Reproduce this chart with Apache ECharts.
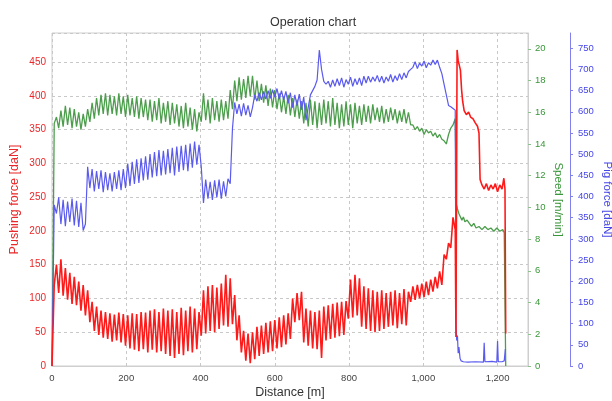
<!DOCTYPE html>
<html>
<head>
<meta charset="utf-8">
<script src="https://cdn.jsdelivr.net/npm/echarts@6/dist/echarts.min.js"></script>
<style>html,body{margin:0;padding:0;background:#fff;}#c{width:612px;height:401px;}</style>
</head>
<body>
<div id="c"></div>
<script>
// Sampling step (m) of the regular part of each record
const sampleStep = 6;
const xTicks = [0, 200, 400, 600, 800, 1000, 1200];

// Pushing force [daN], every 6 m from 0 to 1086
const pushForce = [
  0,
  120, 150, 108, 158, 104,
  145, 98, 138, 92, 132,
  90, 125, 82, 120, 75, 112,
  65, 95, 52, 88, 46, 82, 42,
  80, 40, 78, 36, 76, 38, 79, 35, 77,
  30, 75, 26, 78, 24, 77, 22, 80, 25, 79, 20, 82,
  24, 84, 20, 80, 22, 85, 18, 82,
  15, 84, 12, 80, 18, 86, 16, 82, 22, 88, 20, 85, 25, 80,
  45, 112, 48, 118, 52, 120, 50, 116, 55, 122,
  60, 135, 58, 130, 62,
  105, 38, 75, 20, 52,
  8, 48, 4, 50, 10,
  58, 15, 60, 18, 64, 20, 66, 22, 68,
  26, 72, 28, 75, 32, 78, 40,
  100, 65, 108, 68, 110,
  35, 85, 30, 82, 26, 80, 25, 82,
  12,
  88, 38, 90, 40, 92, 42, 94, 44, 95, 46, 96,
  70, 128, 72, 135, 75, 130,
  58, 118, 55, 115, 52, 112, 50,
  110, 52, 112, 55, 108, 58, 110, 60, 112, 56, 108, 62, 114, 60, 110,
  95, 118, 98, 120, 100, 122, 102, 125, 105, 128, 110, 132, 115, 140, 120,
  165, 158, 182, 175, 220, 202
];
const pushForceTail = [
  [1088, 43], [1091, 468], [1094, 452], [1097, 445], [1100, 438], [1103, 410], [1106, 392],
  [1110, 378], [1116, 372], [1122, 376], [1128, 368], [1134, 366], [1140, 360], [1146, 355],
  [1150, 345], [1153, 276], [1158, 268], [1164, 262], [1170, 270], [1176, 260], [1182, 268],
  [1188, 262], [1194, 270], [1200, 258], [1206, 268], [1212, 262], [1217, 278], [1220, 262], [1222, 48]
];

// Speed [m/min], every 6 m from 0 to 1086
const speed = [
  0,
  15.3, 15.7, 15.0, 16.1, 15.1, 16.4, 15.2, 16.3, 15.0, 16.2, 15.1, 16.0, 14.9, 15.9, 15.1, 16.2,
  15.4, 16.6, 15.6, 16.9, 15.8, 17.1, 15.9, 17.2, 15.8,
  17.1, 15.9, 17.0, 15.8, 17.2, 15.9, 17.0, 15.7, 17.1, 15.8, 16.9, 15.7, 17.0, 15.6, 16.9, 15.7, 16.8,
  15.5, 16.8, 15.4, 16.7, 15.5, 16.9, 15.3, 16.6, 15.4, 16.7, 15.2, 16.6, 15.3,
  16.5, 15.1, 16.4, 15.0, 16.6, 15.1, 16.3, 14.9, 16.2, 14.8, 16.0,
  15.4, 17.2, 15.5, 16.8, 15.3, 16.9, 15.5, 16.7, 15.4, 16.8, 15.5, 16.7, 15.6,
  17.4, 16.2, 18.0, 16.7, 18.2, 16.8, 18.1, 16.9, 18.3, 17.0, 18.3,
  16.8, 18.0, 16.7, 17.8, 16.6, 17.7, 16.4, 17.5, 16.3, 17.4, 16.2, 17.2, 16.0,
  17.0, 15.9, 17.1, 15.8, 16.9, 15.7, 16.8, 15.6,
  16.7, 15.3, 16.6, 15.1, 16.8, 15.2, 16.7, 15.0, 16.6, 15.2, 16.8, 15.3, 16.7, 15.1, 16.9,
  15.2, 16.6, 15.0, 16.5, 15.1, 16.7, 15.2, 16.5, 15.0, 16.6, 15.3, 16.4, 15.2, 16.5,
  15.4, 16.4, 15.3, 16.5, 15.5, 16.3, 15.4, 16.4, 15.3, 16.2, 15.4, 16.3, 15.5, 16.2, 15.3,
  16.1, 15.4, 16.2, 15.3, 16.0, 15.2,
  15.2, 14.9, 15.1, 14.8, 15.0, 14.6, 14.9, 14.7, 14.8, 14.5, 14.7, 14.4, 14.6, 14.3, 14.2,
  14.0, 14.6, 15.0, 15.2, 15.6
];
const speedTail = [
  [1089, 10.2], [1092, 9.9], [1096, 9.6], [1100, 9.5], [1104, 9.2], [1108, 9.4], [1112, 9.1],
  [1118, 9.2], [1124, 9.0], [1130, 8.8], [1136, 9.0], [1142, 8.7], [1150, 8.8], [1158, 8.6],
  [1166, 8.8], [1174, 8.6], [1182, 8.7], [1190, 8.5], [1198, 8.7], [1206, 8.5], [1214, 8.6],
  [1218, 8.4], [1222, 0]
];

// Pig force [daN], every 6 m from 0 to 1086
const pigForce = [
  0,
  380, 360, 398, 335, 392, 330, 388, 340, 395, 332, 390, 328, 385, 320, 335,
  470, 420, 465, 412, 460, 418, 462, 410, 458, 415,
  455, 412, 458, 418, 462, 415, 465, 420,
  478, 425, 482, 430, 488, 432, 490, 438, 495, 440, 500,
  445, 505, 448, 510, 450, 508, 452, 512, 455, 515, 450, 518,
  458, 520, 462, 522, 460, 525, 468, 530, 475, 522,
  470, 385, 440, 395, 435, 392, 438, 398, 440, 395, 436, 400, 442,
  430, 560,
  622, 595, 618, 590, 620, 592, 615, 588, 610,
  640, 625, 645, 628, 648, 630, 650, 632, 652, 635, 655, 630, 650, 628, 648,
  620, 645, 610, 640, 615, 642, 605, 635, 580, 610,
  640, 650, 660, 675,
  746, 700, 672,
  665, 672, 658, 675, 660, 678, 662, 680, 658, 676, 665, 682, 660, 678, 664, 680, 662, 684,
  668, 684, 670, 682, 672, 686, 670, 684, 668, 682, 672, 688, 670, 685, 674, 690, 676, 692, 680, 695, 700,
  705, 718, 702, 715, 708, 720, 704, 716, 710, 722, 712,
  722, 705, 690, 665, 640, 615, 612, 608, 604
];
const pigForceTail = [
  [1088, 100], [1090, 60], [1092, 72], [1094, 30], [1096, 45], [1099, 18], [1102, 12],
  [1108, 10], [1120, 9], [1140, 10], [1162, 9], [1164, 55], [1166, 10], [1185, 11],
  [1198, 9], [1200, 59], [1202, 10], [1212, 10], [1218, 12], [1221, 40]
];

function record(values, tail) {
  return values.map((v, i) => [i * sampleStep, v]).concat(tail);
}

const chart = echarts.init(document.getElementById('c'), null, { renderer: 'canvas' });
const FONT = 'Liberation Sans, Arial, sans-serif';
chart.setOption({
  animation: false,
  backgroundColor: '#ffffff',
  textStyle: { fontFamily: FONT },
  title: {
    text: 'Operation chart', left: 265, top: 11,
    textStyle: { fontSize: 12.5, fontWeight: 'normal', color: '#333', fontFamily: FONT }
  },
  grid: {
    left: 52, right: 84, top: 33, bottom: 35, containLabel: false, outerBoundsMode: 'none',
    show: true, borderColor: '#cfcfcf', borderWidth: 1
  },
  xAxis: {
    type: 'value', min: 0, max: 1282, interval: 200,
    name: 'Distance [m]', nameLocation: 'middle', nameGap: 20, nameMoveOverlap: false,
    nameTextStyle: { fontSize: 12.5, color: '#333', fontFamily: FONT },
    axisLine: { show: true, lineStyle: { color: '#cfcfcf' } },
    axisTick: { show: false },
    axisLabel: {
      fontSize: 9.5, color: '#444', margin: 7, showMaxLabel: false, fontFamily: FONT,
      formatter: v => xTicks.indexOf(v) >= 0 ? v.toLocaleString('en-US') : ''
    },
    splitLine: { show: true, lineStyle: { color: '#c8c8c8', type: [3, 3] } }
  },
  yAxis: [
    {
      type: 'value', position: 'left', min: 0, max: 493, interval: 50,
      name: 'Pushing force [daN]', nameLocation: 'middle', nameGap: 31, nameRotate: 90,
      nameMoveOverlap: false,
      nameTextStyle: { fontSize: 12.5, color: '#e8282a', fontFamily: FONT },
      axisLine: { show: false }, axisTick: { show: false },
      axisLabel: { fontSize: 10, color: '#e8282a', margin: 6, showMaxLabel: false, fontFamily: FONT },
      splitLine: { show: true, lineStyle: { color: '#c8c8c8', type: [3, 3] } }
    },
    {
      type: 'value', position: 'right', min: 0, max: 21, interval: 2,
      name: 'Speed [m/min]', nameLocation: 'middle', nameGap: 24, nameRotate: -90,
      nameMoveOverlap: false,
      nameTextStyle: { fontSize: 11.5, color: '#3a963a', fontFamily: FONT },
      axisLine: { show: true, lineStyle: { color: '#cfcfcf' } },
      axisTick: { show: true, length: 3, lineStyle: { color: '#8cc08c' } },
      axisLabel: { fontSize: 9.5, color: '#3a963a', margin: 7, showMaxLabel: false, fontFamily: FONT },
      splitLine: { show: false }
    },
    {
      type: 'value', position: 'right', offset: 42, min: 0, max: 786, interval: 50,
      name: 'Pig force [daN]', nameLocation: 'middle', nameGap: 31, nameRotate: -90,
      nameMoveOverlap: false,
      nameTextStyle: { fontSize: 11.5, color: '#4646e6', fontFamily: FONT },
      axisLine: { show: true, lineStyle: { color: '#8080ee' } },
      axisTick: { show: true, length: 3, lineStyle: { color: '#8080ee' } },
      axisLabel: { fontSize: 9.5, color: '#4646e6', margin: 8, showMaxLabel: false, fontFamily: FONT },
      splitLine: { show: false }
    }
  ],
  series: [
    {
      name: 'Speed', type: 'line', yAxisIndex: 1, showSymbol: false,
      lineStyle: { color: '#4c9e4c', width: 1.3 }, itemStyle: { color: '#4c9e4c' },
      data: record(speed, speedTail)
    },
    {
      name: 'Pig force', type: 'line', yAxisIndex: 2, showSymbol: false,
      lineStyle: { color: '#5a5aee', width: 1.2 }, itemStyle: { color: '#5a5aee' },
      data: record(pigForce, pigForceTail)
    },
    {
      name: 'Pushing force', type: 'line', yAxisIndex: 0, showSymbol: false,
      lineStyle: { color: '#ff1a1a', width: 1.6 }, itemStyle: { color: '#ff1a1a' },
      data: record(pushForce, pushForceTail)
    }
  ]
});
</script>
</body>
</html>
